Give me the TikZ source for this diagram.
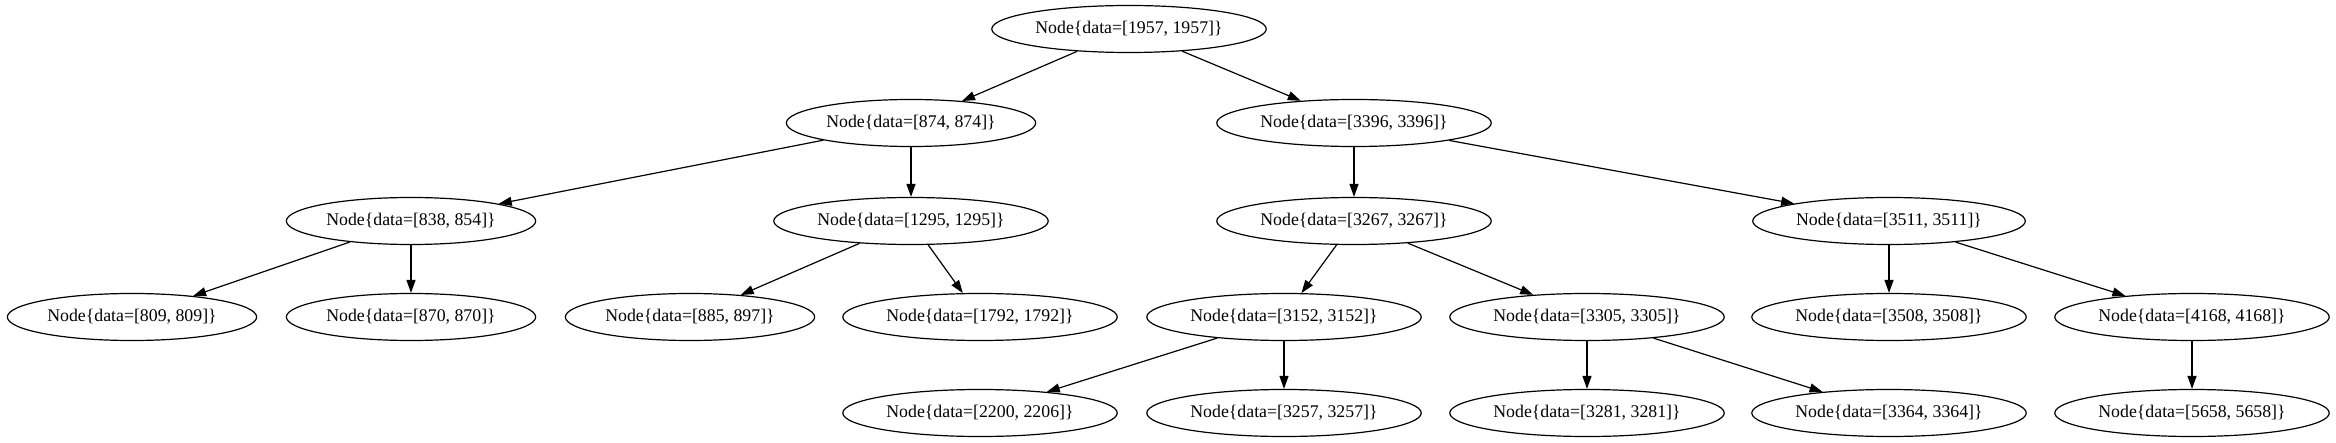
\documentclass[tikz,border=0pt]{standalone}
\usepackage{fontspec}
\setmainfont{Liberation Serif}
\usetikzlibrary{shapes.geometric,arrows.meta}
\begin{document}
\begin{tikzpicture}[x=1pt,y=-1pt,
  tn/.style={draw,ellipse,line width=1.2pt,inner xsep=3.4pt,inner ysep=2pt,minimum height=47pt,font=\fontsize{17.8}{20}\selectfont},
  edge/.style={line width=1.2pt,-{Triangle[length=13pt,width=9pt]}}]
\useasboundingbox (0,0) rectangle (2336,443);
\node[tn] (n1957) at (1129,29) {Node\{data=[1957, 1957]\}};
\node[tn] (n874) at (911,123) {Node\{data=[874, 874]\}};
\node[tn] (n3396) at (1354,123) {Node\{data=[3396, 3396]\}};
\node[tn] (n838) at (411,221) {Node\{data=[838, 854]\}};
\node[tn] (n1295) at (911,221) {Node\{data=[1295, 1295]\}};
\node[tn] (n3267) at (1354,221) {Node\{data=[3267, 3267]\}};
\node[tn] (n3511) at (1889,221) {Node\{data=[3511, 3511]\}};
\node[tn] (n809) at (132,317) {Node\{data=[809, 809]\}};
\node[tn] (n870) at (411,317) {Node\{data=[870, 870]\}};
\node[tn] (n885) at (690,317) {Node\{data=[885, 897]\}};
\node[tn] (n1792) at (980,317) {Node\{data=[1792, 1792]\}};
\node[tn] (n3152) at (1284,317) {Node\{data=[3152, 3152]\}};
\node[tn] (n3305) at (1587,317) {Node\{data=[3305, 3305]\}};
\node[tn] (n3508) at (1889,317) {Node\{data=[3508, 3508]\}};
\node[tn] (n4168) at (2192,317) {Node\{data=[4168, 4168]\}};
\node[tn] (n2200) at (980,413) {Node\{data=[2200, 2206]\}};
\node[tn] (n3257) at (1284,413) {Node\{data=[3257, 3257]\}};
\node[tn] (n3281) at (1587,413) {Node\{data=[3281, 3281]\}};
\node[tn] (n3364) at (1889,413) {Node\{data=[3364, 3364]\}};
\node[tn] (n5658) at (2192,413) {Node\{data=[5658, 5658]\}};
\draw[edge] (n1957) -- (n874);
\draw[edge] (n1957) -- (n3396);
\draw[edge] (n874) -- (n838);
\draw[edge] (n874) -- (n1295);
\draw[edge] (n3396) -- (n3267);
\draw[edge] (n3396) -- (n3511);
\draw[edge] (n838) -- (n809);
\draw[edge] (n838) -- (n870);
\draw[edge] (n1295) -- (n885);
\draw[edge] (n1295) -- (n1792);
\draw[edge] (n3267) -- (n3152);
\draw[edge] (n3267) -- (n3305);
\draw[edge] (n3511) -- (n3508);
\draw[edge] (n3511) -- (n4168);
\draw[edge] (n3152) -- (n2200);
\draw[edge] (n3152) -- (n3257);
\draw[edge] (n3305) -- (n3281);
\draw[edge] (n3305) -- (n3364);
\draw[edge] (n4168) -- (n5658);
\end{tikzpicture}
\end{document}
